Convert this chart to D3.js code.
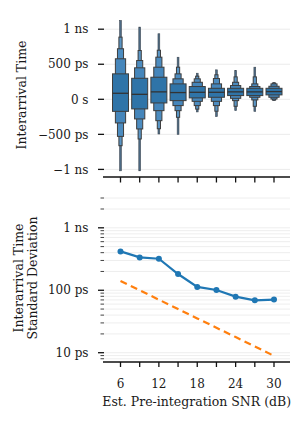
<!DOCTYPE html>
<html><head><meta charset="utf-8">
<script src="https://cdn.jsdelivr.net/npm/d3@7"></script>
<style>
html,body{margin:0;padding:0;background:#fff;}
text{font-family:"DejaVu Serif",serif;fill:#1a1a1a;}
</style></head>
<body><svg id="c" width="303" height="423"></svg>
<script>
// ---------- data ----------
const snrDb = [6, 9, 12, 15, 18, 21, 24, 27, 30];
const xTickLabels = [6, 12, 18, 24, 30];
// letter-value (boxen) levels, interarrival time in ps
const medianPs = [86, 71, 106, 96, 100, 100, 106, 106, 110];
const lv1Lo = [-172, -137, -52, -19, 20, 29, 53, 53, 63];
const lv1Hi = [363, 300, 315, 220, 182, 157, 157, 157, 157];
const lv2Lo = [-337, -280, -162, -90, -29, -29, 14, 29, 29];
const lv2Hi = [578, 449, 458, 292, 243, 220, 196, 182, 186];
const lv3Lo = [-529, -423, -305, -162, -90, -90, -19, -9, 4];
const lv3Hi = [721, 553, 601, 363, 292, 296, 243, 220, 220];
const lv4Lo = [-662, -566, -420, -257, -140, -170, -100, -100, -12];
const lv4Hi = [887, 696, 700, 458, 330, 350, 320, 320, 232];
const minPs = [-1020, -1020, -495, -500, -180, -247, -162, -172, -19];
const maxPs = [1125, 1030, 935, 600, 372, 420, 410, 458, 239];
const topTicksPs = [1000, 500, 0, -500, -1000];
const topTickLabels = ["1 ns", "500 ps", "0 s", "\u2212500 ps", "\u22121 ns"];
// standard deviation (ps)
const stdMeasuredPs = [419, 336, 320, 182, 113, 101, 79, 69, 71];
const stdTheoryPs = [141, 99.8, 70.7, 50, 35.4, 25.1, 17.8, 12.6, 8.9];
const bottomTicksPs = [1000, 100, 10];
const bottomTickLabels = ["1 ns", "100 ps", "10 ps"];

// ---------- layout ----------
const svg = d3.select("#c");
const L = 104, R = 290;
const FS = 12, FSL = 12.5;
const x = d3.scaleLinear().domain([6, 30]).range([120.5, 274]);
const levelFrac = [1, 0.64, 0.38, 0.2];
const boxW = 16;

// ---------- top chart ----------
const yTop = d3.scaleLinear().domain([-1000, 1000]).range([169.4, 29.2]);
const topBase = 177;
const gTop = svg.append("g");
gTop.selectAll("line.grid").data(topTicksPs).join("line")
  .attr("x1", L).attr("x2", R)
  .attr("y1", d => yTop(d)).attr("y2", d => yTop(d))
  .attr("stroke", "#ebebeb").attr("stroke-width", 1);

const levels = [[lv1Lo, lv1Hi], [lv2Lo, lv2Hi], [lv3Lo, lv3Hi], [lv4Lo, lv4Hi]];
const levelFill = ["#2f74a8", "#4586bb", "#4c8cc0", "#5a96c6"];
snrDb.forEach((s, i) => {
  const cx = x(s);
  const g = gTop.append("g");
  g.append("rect")
    .attr("x", cx - 0.9).attr("width", 1.8)
    .attr("y", yTop(maxPs[i])).attr("height", yTop(minPs[i]) - yTop(maxPs[i]))
    .attr("fill", "#4c6a84").attr("stroke", "#3f4a55").attr("stroke-width", 0.6);
  for (let k = levels.length - 1; k >= 0; k--) {
    const lo = levels[k][0][i], hi = levels[k][1][i];
    const w = boxW * levelFrac[k];
    g.append("rect")
      .attr("x", cx - w / 2).attr("width", w)
      .attr("y", yTop(hi)).attr("height", yTop(lo) - yTop(hi))
      .attr("fill", levelFill[k]).attr("stroke", "#3d3d3d").attr("stroke-width", 1);
  }
  g.append("line")
    .attr("x1", cx - boxW / 2).attr("x2", cx + boxW / 2)
    .attr("y1", yTop(medianPs[i])).attr("y2", yTop(medianPs[i]))
    .attr("stroke", "#333").attr("stroke-width", 1.3);
});

gTop.append("line").attr("x1", L - 1).attr("x2", R).attr("y1", topBase).attr("y2", topBase)
  .attr("stroke", "#111").attr("stroke-width", 1.3);
gTop.selectAll("line.xt").data(snrDb).join("line")
  .attr("x1", d => x(d)).attr("x2", d => x(d)).attr("y1", topBase).attr("y2", topBase + 5.5)
  .attr("stroke", "#111").attr("stroke-width", 1.3);
gTop.selectAll("line.yt").data(topTicksPs).join("line")
  .attr("x1", L - 6).attr("x2", L).attr("y1", d => yTop(d)).attr("y2", d => yTop(d))
  .attr("stroke", "#111").attr("stroke-width", 1.3);
gTop.selectAll("text.yl").data(topTicksPs).join("text")
  .attr("x", 88.5).attr("y", d => yTop(d)).attr("dy", "0.35em")
  .attr("text-anchor", "end").attr("font-size", FS)
  .text((d, i) => topTickLabels[i]);
gTop.append("text").attr("transform", "translate(21.5,95) rotate(-90)")
  .attr("text-anchor", "middle").attr("dy", "0.35em").attr("font-size", FSL)
  .text("Interarrival Time");

// ---------- bottom chart ----------
const yBot = d3.scaleLog().domain([7.1, 3800]).range([362, 191.6]);
const botBase = 362;
const gBot = svg.append("g");
const allTicks = yBot.ticks().filter(t => t >= 7.1 && t <= 3800);
gBot.selectAll("line.grid").data(allTicks).join("line")
  .attr("x1", L).attr("x2", R)
  .attr("y1", d => yBot(d)).attr("y2", d => yBot(d))
  .attr("stroke", "#ececec").attr("stroke-width", 0.9);
const isMajor = d => bottomTicksPs.includes(d);
gBot.selectAll("line.yt").data(allTicks).join("line")
  .attr("x1", d => isMajor(d) ? L - 6 : L - 3.5).attr("x2", L)
  .attr("y1", d => yBot(d)).attr("y2", d => yBot(d))
  .attr("stroke", "#111").attr("stroke-width", d => isMajor(d) ? 1.3 : 0.8);
gBot.selectAll("text.yl").data(bottomTicksPs).join("text")
  .attr("x", 88.5).attr("y", d => yBot(d)).attr("dy", "0.35em")
  .attr("text-anchor", "end").attr("font-size", FS)
  .text((d, i) => bottomTickLabels[i]);

const line = d3.line().x((d, i) => x(snrDb[i])).y(d => yBot(d));
gBot.append("path").datum(stdTheoryPs).attr("d", line)
  .attr("fill", "none").attr("stroke", "#ff7f0e").attr("stroke-width", 2.2)
  .attr("stroke-dasharray", "7,4.5");
gBot.append("path").datum(stdMeasuredPs).attr("d", line)
  .attr("fill", "none").attr("stroke", "#1f77b4").attr("stroke-width", 2.2);
gBot.selectAll("circle").data(stdMeasuredPs).join("circle")
  .attr("cx", (d, i) => x(snrDb[i])).attr("cy", d => yBot(d)).attr("r", 3)
  .attr("fill", "#1f77b4");

gBot.append("line").attr("x1", L - 1).attr("x2", R).attr("y1", botBase).attr("y2", botBase)
  .attr("stroke", "#111").attr("stroke-width", 1.3);
gBot.selectAll("line.xt").data(snrDb).join("line")
  .attr("x1", d => x(d)).attr("x2", d => x(d)).attr("y1", botBase).attr("y2", botBase + 5)
  .attr("stroke", "#111").attr("stroke-width", 1.3);
gBot.selectAll("text.xl").data(xTickLabels).join("text")
  .attr("x", d => x(d)).attr("y", 387.8).attr("text-anchor", "middle").attr("font-size", FS)
  .text(d => d);
gBot.append("text").attr("x", 196.7).attr("y", 406).attr("text-anchor", "middle")
  .attr("font-size", FSL).text("Est. Pre-integration SNR (dB)");
gBot.append("text").attr("transform", "translate(19,278) rotate(-90)")
  .attr("text-anchor", "middle").attr("dy", "0.35em").attr("font-size", FSL)
  .text("Interarrival Time");
gBot.append("text").attr("transform", "translate(32.5,278) rotate(-90)")
  .attr("text-anchor", "middle").attr("dy", "0.35em").attr("font-size", FSL)
  .text("Standard Deviation");
</script></body></html>
